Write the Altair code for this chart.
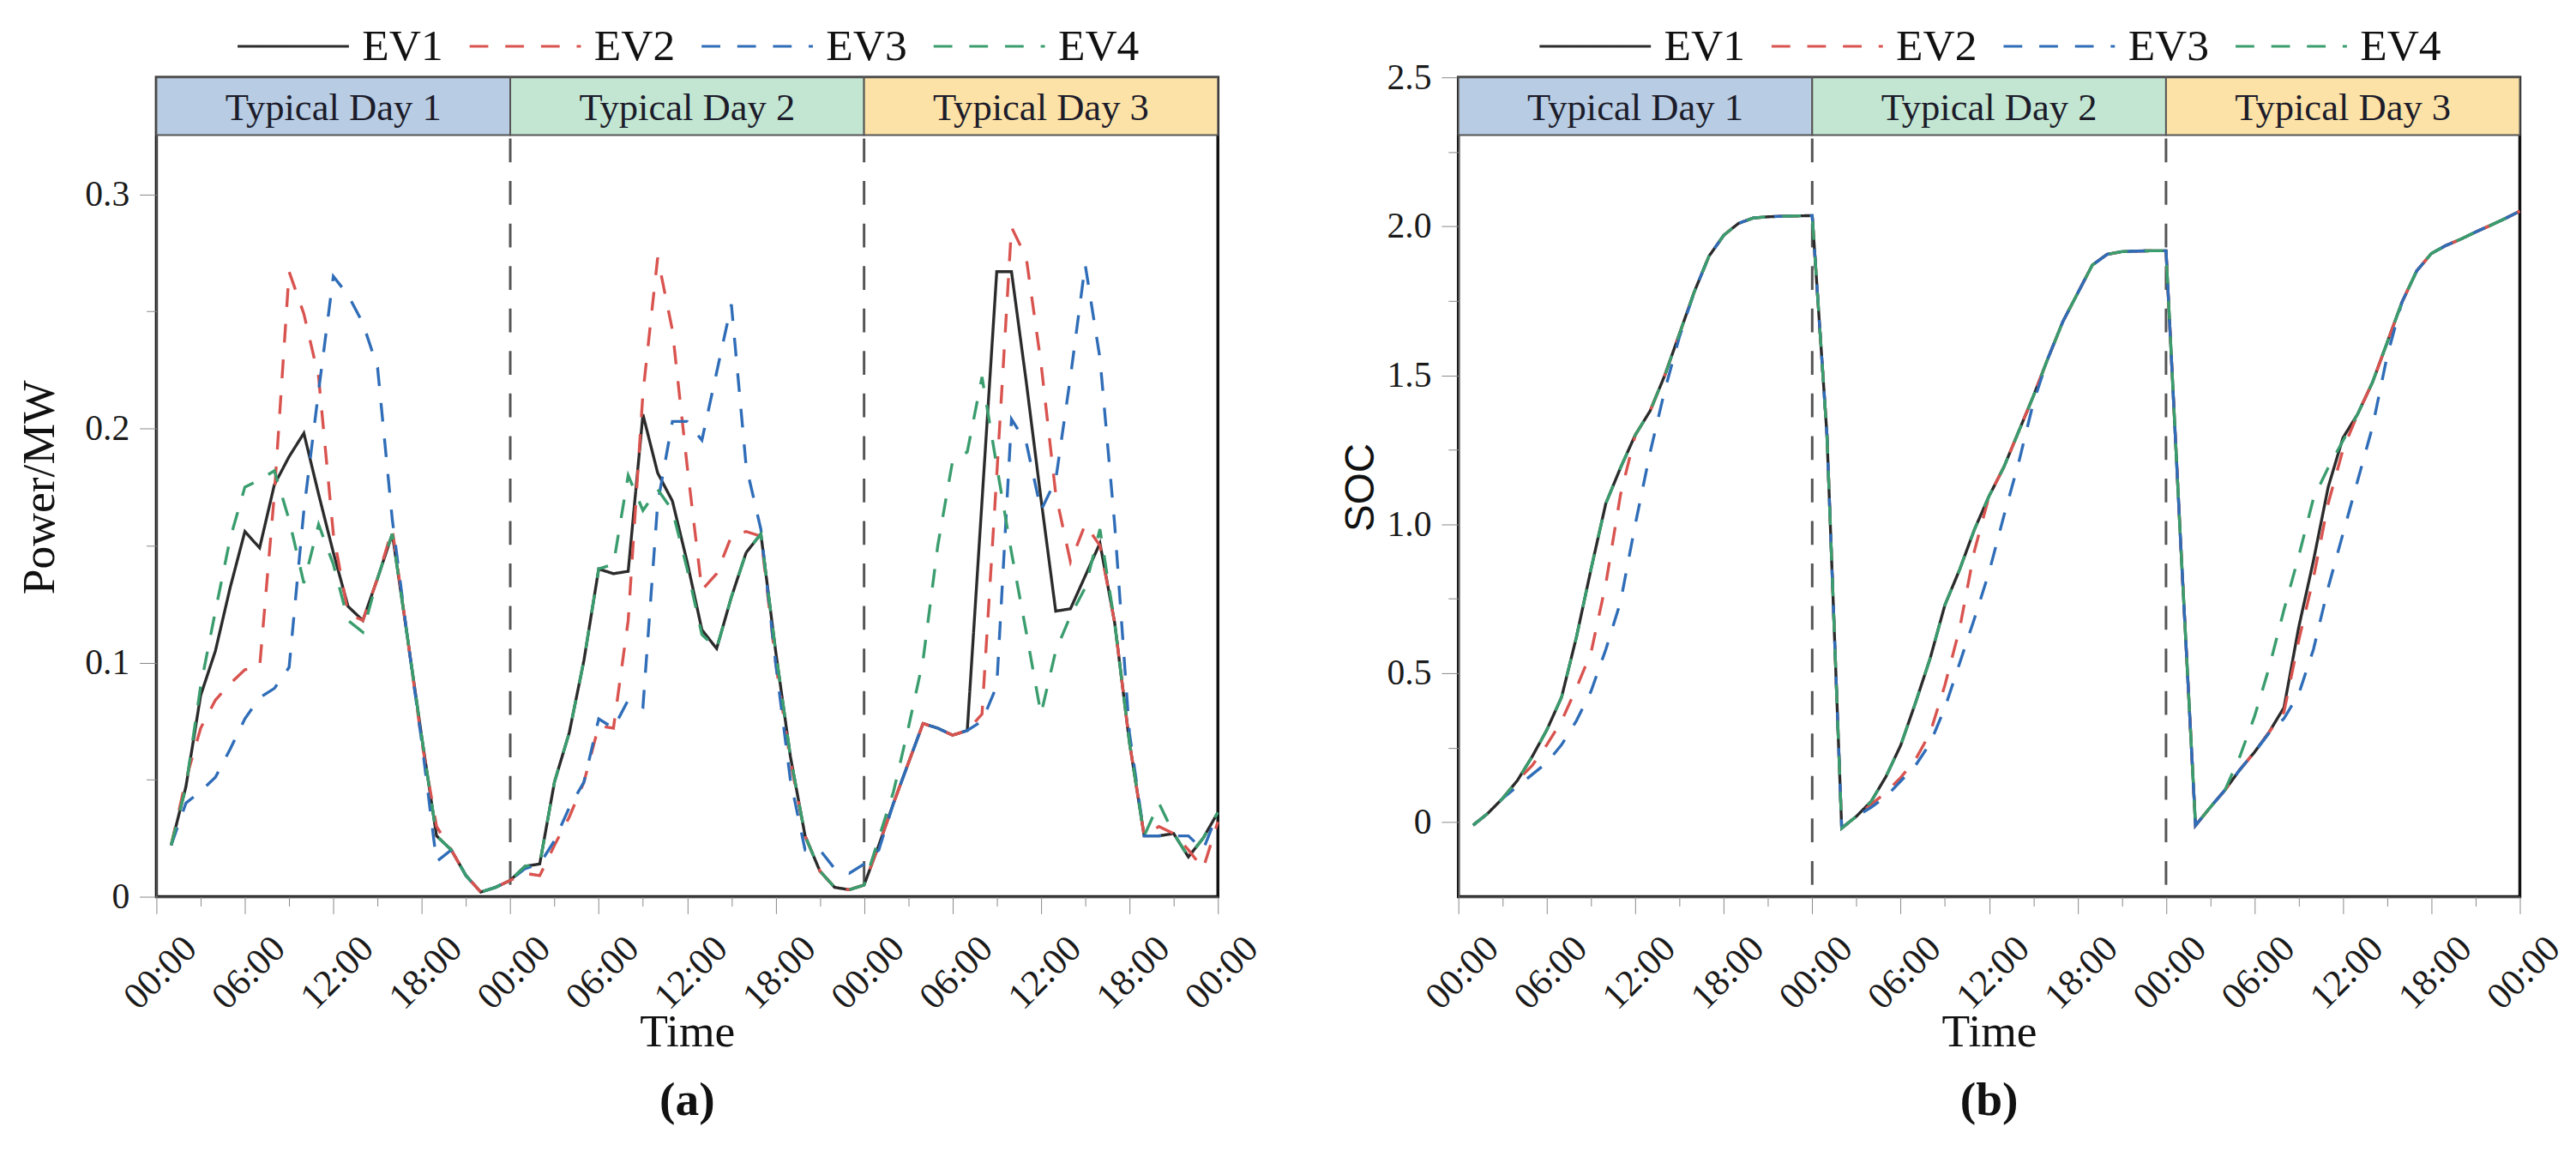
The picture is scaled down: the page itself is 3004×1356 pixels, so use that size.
import altair as alt
import pandas as pd

# ---------------- data ----------------
hours = list(range(1, 73))
series_names = ["EV1", "EV2", "EV3", "EV4"]
series_colors = ["#2b2b2b", "#d9534f", "#2f6db8", "#3a9d6e"]
series_dashes = [[1, 0], [22, 20], [22, 20], [22, 20]]

day_labels = ["Typical Day 1", "Typical Day 2", "Typical Day 3"]
day_start = [0, 24, 48]
day_end = [24, 48, 72]
day_colors = ["#b8cce4", "#c3e6d3", "#fce2a6"]
day_bounds = [24, 48]

x_ticks = [0, 3, 6, 9, 12, 15, 18, 21, 24, 27, 30, 33, 36, 39, 42, 45, 48,
           51, 54, 57, 60, 63, 66, 69, 72]
power_ticks = [0, 0.05, 0.1, 0.15, 0.2, 0.25, 0.3]
soc_ticks = [0, 0.25, 0.5, 0.75, 1.0, 1.25, 1.5, 1.75, 2.0, 2.25, 2.5]

power_ev1 = [0.022, 0.047, 0.086, 0.105, 0.132, 0.156, 0.149, 0.176, 0.188, 0.198, 0.172, 0.147,
             0.124, 0.118, 0.136, 0.155, 0.112, 0.068, 0.026, 0.020, 0.009, 0.002, 0.004, 0.007,
             0.013, 0.014, 0.049, 0.070, 0.101, 0.140, 0.138, 0.139, 0.206, 0.181, 0.169, 0.143,
             0.114, 0.106, 0.128, 0.147, 0.155, 0.105, 0.060, 0.026, 0.011, 0.004, 0.003, 0.005,
             0.022, 0.040, 0.057, 0.074, 0.072, 0.069, 0.071, 0.169, 0.267, 0.267, 0.220, 0.170,
             0.122, 0.123, 0.137, 0.151, 0.117, 0.066, 0.026, 0.026, 0.027, 0.017, 0.025, 0.036]
power_ev2 = [0.022, 0.050, 0.072, 0.084, 0.091, 0.097, 0.098, 0.172, 0.267, 0.249, 0.222, 0.155,
             0.121, 0.118, 0.136, 0.157, 0.112, 0.066, 0.030, 0.020, 0.009, 0.002, 0.004, 0.007,
             0.010, 0.009, 0.022, 0.034, 0.049, 0.073, 0.072, 0.118, 0.215, 0.273, 0.242, 0.184,
             0.131, 0.138, 0.154, 0.156, 0.154, 0.100, 0.058, 0.026, 0.011, 0.004, 0.003, 0.005,
             0.022, 0.040, 0.057, 0.074, 0.072, 0.069, 0.071, 0.078, 0.180, 0.286, 0.273, 0.228,
             0.172, 0.143, 0.159, 0.150, 0.117, 0.066, 0.026, 0.030, 0.027, 0.020, 0.012, 0.032]
power_ev3 = [0.022, 0.040, 0.045, 0.051, 0.063, 0.076, 0.085, 0.089, 0.098, 0.165, 0.216, 0.265,
             0.257, 0.245, 0.226, 0.161, 0.112, 0.066, 0.015, 0.020, 0.009, 0.002, 0.004, 0.007,
             0.012, 0.014, 0.024, 0.038, 0.049, 0.076, 0.072, 0.084, 0.081, 0.168, 0.203, 0.203,
             0.195, 0.224, 0.253, 0.184, 0.157, 0.100, 0.050, 0.020, 0.020, 0.012, 0.010, 0.014,
             0.020, 0.040, 0.057, 0.074, 0.072, 0.069, 0.071, 0.075, 0.090, 0.204, 0.194, 0.165,
             0.178, 0.222, 0.270, 0.230, 0.159, 0.070, 0.026, 0.026, 0.026, 0.026, 0.020, 0.036]
power_ev4 = [0.022, 0.047, 0.090, 0.122, 0.153, 0.175, 0.178, 0.182, 0.161, 0.134, 0.159, 0.142,
             0.118, 0.113, 0.136, 0.155, 0.112, 0.068, 0.026, 0.020, 0.009, 0.002, 0.004, 0.007,
             0.013, 0.014, 0.049, 0.070, 0.101, 0.140, 0.142, 0.180, 0.165, 0.174, 0.165, 0.140,
             0.112, 0.106, 0.128, 0.147, 0.155, 0.105, 0.060, 0.026, 0.011, 0.004, 0.003, 0.005,
             0.025, 0.045, 0.072, 0.101, 0.150, 0.186, 0.190, 0.222, 0.184, 0.147, 0.113, 0.078,
             0.105, 0.120, 0.132, 0.157, 0.117, 0.066, 0.026, 0.040, 0.027, 0.017, 0.025, 0.036]

soc_ev1 = [-0.01, 0.03, 0.08, 0.14, 0.22, 0.31, 0.42, 0.62, 0.85, 1.07, 1.19, 1.30,
           1.38, 1.50, 1.64, 1.78, 1.90, 1.97, 2.01, 2.028, 2.032, 2.034, 2.035, 2.036,
           1.30, -0.02, 0.02, 0.07, 0.153, 0.258, 0.40, 0.55, 0.729, 0.848, 0.982, 1.095,
           1.192, 1.311, 1.43, 1.558, 1.68, 1.775, 1.87, 1.906, 1.915, 1.917, 1.918, 1.918,
           0.93, -0.011, 0.05, 0.108, 0.176, 0.235, 0.303, 0.385, 0.654, 0.878, 1.125, 1.29,
           1.37, 1.476, 1.61, 1.745, 1.85, 1.909, 1.936, 1.957, 1.981, 2.003, 2.026, 2.051]
soc_ev2 = [-0.01, 0.03, 0.08, 0.14, 0.19, 0.26, 0.34, 0.45, 0.57, 0.80, 1.10, 1.30,
           1.38, 1.50, 1.64, 1.78, 1.90, 1.97, 2.01, 2.028, 2.032, 2.034, 2.035, 2.036,
           1.30, -0.02, 0.02, 0.06, 0.10, 0.15, 0.21, 0.30, 0.46, 0.65, 0.91, 1.095,
           1.192, 1.311, 1.43, 1.558, 1.68, 1.775, 1.87, 1.906, 1.915, 1.917, 1.918, 1.918,
           0.93, -0.011, 0.05, 0.108, 0.176, 0.235, 0.303, 0.37, 0.61, 0.82, 1.07, 1.25,
           1.37, 1.476, 1.61, 1.745, 1.85, 1.909, 1.936, 1.957, 1.981, 2.003, 2.026, 2.051]
soc_ev3 = [-0.01, 0.03, 0.08, 0.12, 0.16, 0.20, 0.26, 0.34, 0.44, 0.58, 0.74, 1.00,
           1.24, 1.45, 1.63, 1.78, 1.90, 1.97, 2.01, 2.028, 2.032, 2.034, 2.035, 2.036,
           1.30, -0.02, 0.02, 0.05, 0.086, 0.138, 0.19, 0.265, 0.384, 0.534, 0.683, 0.84,
           1.028, 1.206, 1.408, 1.558, 1.68, 1.775, 1.87, 1.906, 1.915, 1.917, 1.918, 1.918,
           0.93, -0.011, 0.05, 0.108, 0.176, 0.235, 0.30, 0.348, 0.43, 0.58, 0.788, 0.968,
           1.147, 1.326, 1.565, 1.745, 1.85, 1.909, 1.936, 1.957, 1.981, 2.003, 2.026, 2.051]
soc_ev4 = [-0.01, 0.03, 0.08, 0.14, 0.22, 0.31, 0.42, 0.62, 0.85, 1.07, 1.19, 1.30,
           1.38, 1.50, 1.64, 1.78, 1.90, 1.97, 2.01, 2.028, 2.032, 2.034, 2.035, 2.036,
           1.30, -0.02, 0.02, 0.07, 0.153, 0.258, 0.40, 0.55, 0.729, 0.848, 0.982, 1.095,
           1.192, 1.311, 1.43, 1.558, 1.68, 1.775, 1.87, 1.906, 1.915, 1.917, 1.918, 1.918,
           0.93, -0.011, 0.05, 0.108, 0.22, 0.355, 0.52, 0.713, 0.893, 1.087, 1.19, 1.28,
           1.37, 1.476, 1.61, 1.745, 1.85, 1.909, 1.936, 1.957, 1.981, 2.003, 2.026, 2.051]

# ---------------- tables ----------------
def long_table(arrays):
    rows = []
    for name, vals in zip(series_names, arrays):
        for h, v in zip(hours, vals):
            rows.append({"hour": h, "series": name, "value": v})
    return pd.DataFrame(rows)

power_df = long_table([power_ev1, power_ev2, power_ev3, power_ev4])
soc_df = long_table([soc_ev1, soc_ev2, soc_ev3, soc_ev4])
days_df = pd.DataFrame({"label": day_labels, "start": day_start, "end": day_end})
days_df["mid"] = (days_df["start"] + days_df["end"]) / 2
bounds_df = pd.DataFrame({"b": day_bounds})

# ---------------- styling ----------------
SERIF = "Liberation Serif"
SANS = "Liberation Sans"
W, H = 1249, 964
HEADER_H = 68
SYM = 131  # legend line length in px

x_scale = alt.Scale(domain=[0, 72], nice=False, zero=False)
x_axis = alt.Axis(
    values=x_ticks, grid=False, labelOverlap=False, labelFlush=False, labelBound=False,
    labelExpr="datum.value % 6 == 0 ? format(datum.value % 24, '02d') + ':00' : ''",
    tickSize={"condition": {"test": "datum.value % 6 == 0", "value": 20}, "value": 11},
    labelAngle=-45, labelAlign="right", labelBaseline="middle",
    labelOffset=40, labelPadding=34, labelFontSize=44, labelFont=SERIF, labelColor="#1a1a1a",
    title="Time", titleFont=SERIF, titleFontSize=54, titleFontWeight="normal",
    titleY=176, titleBaseline="alphabetic", titleColor="#111",
)


def y_axis(vals, label_expr, major_test, title, font, title_x):
    return alt.Axis(
        values=vals, grid=False, labelOverlap=False, labelFlush=False,
        labelExpr=label_expr,
        tickSize={"condition": {"test": major_test, "value": 20}, "value": 12},
        labelPadding=12, labelFontSize=42, labelFont=SERIF, labelColor="#1a1a1a",
        title=title, titleFont=font, titleFontSize=54 if font == SERIF else 48,
        titleFontWeight="normal", titleColor="#111",
        titleX=title_x, titleY=H / 2, titleAlign="center", titleBaseline="alphabetic",
        titleAngle=-90,
    )


def make_legend():
    return alt.Legend(
        title=None, orient="none", legendX=94, legendY=-38 - SYM / 2, direction="horizontal",
        symbolType="stroke", symbolSize=SYM * SYM, symbolStrokeWidth=3,
        labelFont=SERIF, labelFontSize=52, labelColor="#111",
        labelOffset=14, columnPadding=24,
    )


def panel(df, y_domain, yax, caption):
    header = alt.Chart(days_df).mark_rect(stroke="#555", strokeWidth=2).encode(
        x=alt.X("start:Q", scale=x_scale, axis=x_axis),
        x2="end:Q",
        y=alt.value(0), y2=alt.value(HEADER_H),
        fill=alt.Fill("label:N", scale=alt.Scale(domain=day_labels, range=day_colors), legend=None),
    )
    header_text = alt.Chart(days_df).mark_text(
        font=SERIF, fontSize=45, color="#1c1c2a", baseline="middle"
    ).encode(
        x=alt.X("mid:Q", scale=x_scale, axis=x_axis),
        y=alt.value(HEADER_H / 2 + 2),
        text="label:N",
    )
    seps = alt.Chart(bounds_df).mark_rule(color="#555", strokeDash=[28, 22], strokeWidth=3).encode(
        x=alt.X("b:Q", scale=x_scale, axis=x_axis),
        y=alt.value(HEADER_H + 4), y2=alt.value(H),
    )
    lines = alt.Chart(df).mark_line(strokeWidth=3.4).encode(
        x=alt.X("hour:Q", scale=x_scale, axis=x_axis),
        y=alt.Y("value:Q", scale=alt.Scale(domain=y_domain, nice=False, zero=False), axis=yax),
        color=alt.Color("series:N", scale=alt.Scale(domain=series_names, range=series_colors),
                        legend=make_legend()),
        strokeDash=alt.StrokeDash("series:N", scale=alt.Scale(domain=series_names, range=series_dashes),
                                  legend=make_legend()),
    )
    return alt.layer(header, header_text, seps, lines).properties(
        width=W, height=H,
        view=alt.ViewBackground(stroke="#111", strokeWidth=3.5),
        title=alt.TitleParams(text=caption, orient="bottom", anchor="middle", font=SERIF,
                              fontSize=56, fontWeight="bold", color="#111", offset=26),
    )


left = panel(
    power_df, [0, 0.35],
    y_axis(power_ticks,
           "round(datum.value*100) % 10 == 0 ? (datum.value == 0 ? '0' : format(datum.value, '.1f')) : ''",
           "round(datum.value*100) % 10 == 0", "Power/MW", SERIF, -121),
    "(a)",
)
right = panel(
    soc_df, [-0.25, 2.5],
    y_axis(soc_ticks,
           "round(datum.value*100) % 50 == 0 ? (datum.value == 0 ? '0' : format(datum.value, '.1f')) : ''",
           "round(datum.value*100) % 50 == 0", "SOC", SANS, -100),
    "(b)",
)

chart = alt.hconcat(left, right, spacing=85).resolve_legend(
    color="independent", strokeDash="independent"
).properties(
    padding={"left": 10, "top": -29, "right": 0, "bottom": 0}
).configure_view(
    stroke="#111", strokeWidth=3.5
).configure_axis(
    grid=False, domainColor="#111", domainWidth=4, tickColor="#111", tickWidth=3,
    labelFont=SERIF, labelColor="#1a1a1a",
).configure(
    background="white"
)

chart.save("out.html", embed_options={"renderer": "svg", "actions": False})
